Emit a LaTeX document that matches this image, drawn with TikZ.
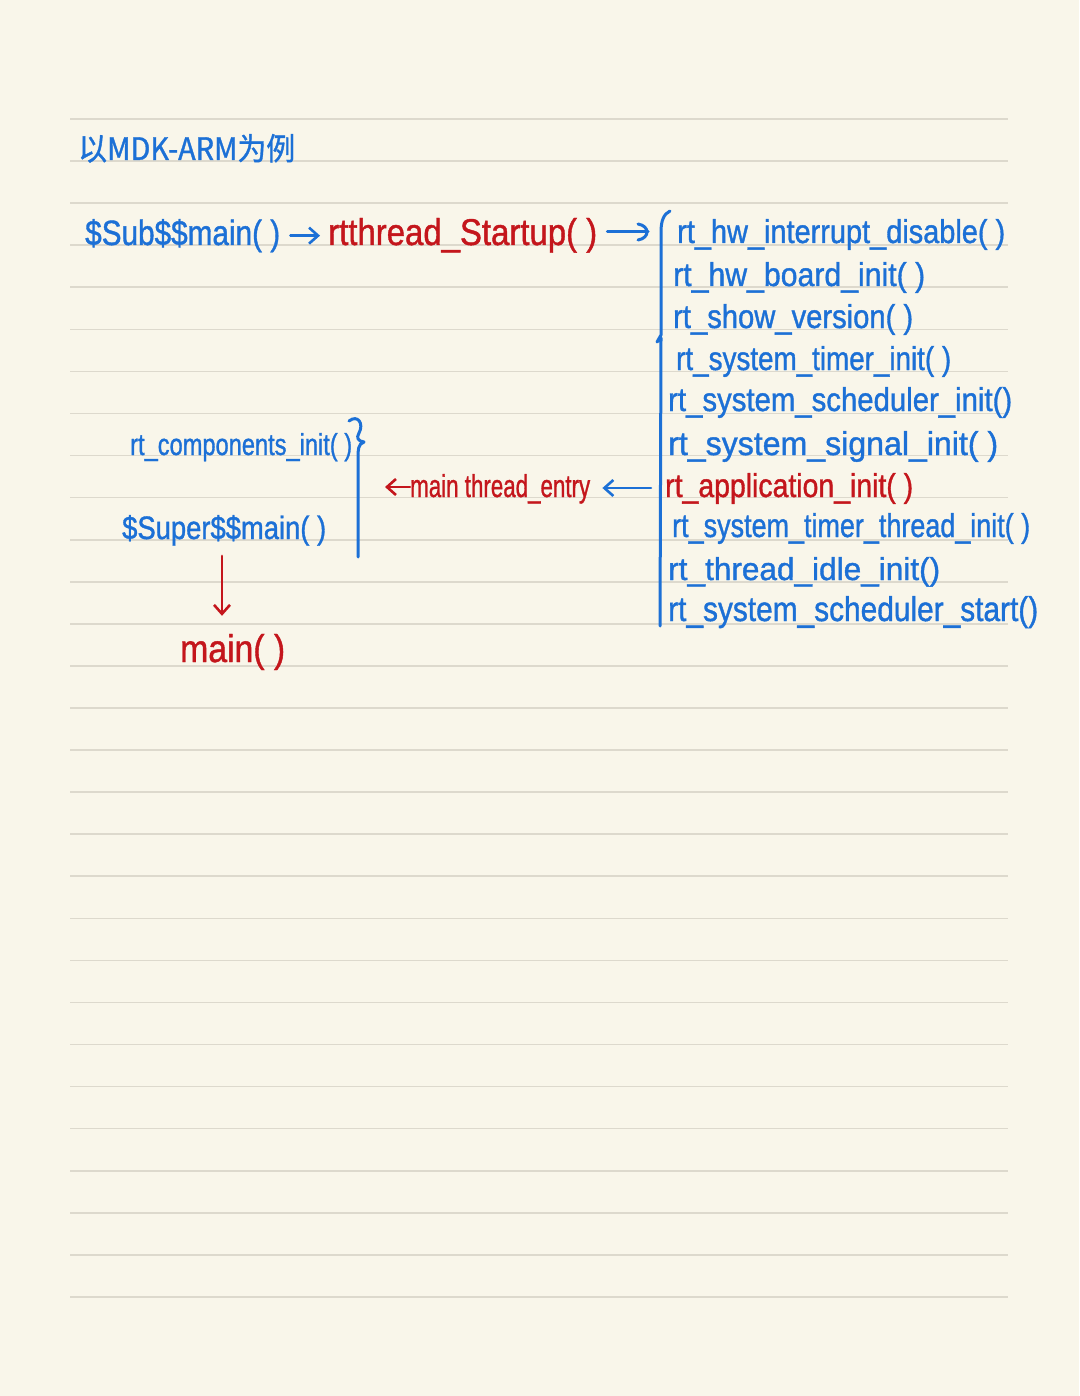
\documentclass[tikz,border=0pt]{standalone}
\usepackage{fontspec}
\usepackage{graphicx}
\setmainfont[FakeBold=1.2]{Liberation Sans}
\newfontfamily\cjk[FakeBold=1.2]{Noto Sans CJK SC}
\usetikzlibrary{arrows.meta}
\definecolor{paper}{RGB}{249,246,234}
\definecolor{rule}{RGB}{221,217,205}
\definecolor{pen}{RGB}{28,112,214}
\definecolor{ink}{RGB}{196,22,28}
\newcommand{\fitw}[3]{\resizebox{#1pt}{#2pt}{#3}}
\tikzset{
  lbl/.style={inner sep=0pt, anchor=base west, text=pen, font=\fontsize{20}{24}\selectfont},
  redlbl/.style={lbl, text=ink},
  arr/.style={draw=pen, line width=2.6pt, line cap=round, -{Straight Barb[length=9pt,width=16pt,line width=2.6pt]}},
  redarr/.style={arr, draw=ink, -{Straight Barb[length=9pt,width=16pt,line width=2.6pt]}},
  bar/.style={draw=pen, line width=3pt, line cap=round, line join=round},
  ruling/.style={draw=rule, line width=1.6pt}
}
\begin{document}
\begin{tikzpicture}[x=1pt,y=-1pt]
\fill[paper] (0,0) rectangle (1079,1396);
\useasboundingbox (0,0) rectangle (1079,1396);
% ruled lines
\foreach \k in {0,...,28}{
  \draw[ruling] (70,{119+42.07*\k}) -- (1008,{119+42.07*\k});
}
% title
\node[lbl, font=\cjk\fontsize{20}{24}\selectfont] (title) at (78,160) {\fitw{217}{26}{以MDK-ARM为例}};
% top row
\node[lbl] (sub) at (85,245) {\fitw{195}{26}{\$Sub\$\$main( )}};
\node[redlbl] (startup) at (328,245) {\fitw{269}{27}{rtthread\_Startup( )}};
\draw[arr] ([xshift=10pt]sub.east) -- ([xshift=-8pt]sub.east -| startup.west);
% hooked arrow to list
\coordinate (hk) at (648,232);
\draw[bar] ([xshift=10pt]startup.east |- hk) -- (hk);
\draw[bar] ([shift={(-10,-8)}]hk) .. controls ([shift={(2,-6)}]hk) and ([shift={(2,6)}]hk) .. ([shift={(-10,8)}]hk);
% right list
\node[lbl] (i1) at (677,243) {\fitw{328}{24}{rt\_hw\_interrupt\_disable( )}};
\node[lbl] (i2) at (673,286) {\fitw{252}{24}{rt\_hw\_board\_init( )}};
\node[lbl] (i3) at (673,328) {\fitw{240}{24}{rt\_show\_version( )}};
\node[lbl] (i4) at (676,370) {\fitw{275}{24}{rt\_system\_timer\_init( )}};
\node[lbl] (i5) at (668,411) {\fitw{344}{24}{rt\_system\_scheduler\_init()}};
\node[lbl] (i6) at (668,455) {\fitw{330}{24}{rt\_system\_signal\_init( )}};
\node[redlbl] (i7) at (665,497) {\fitw{248}{24}{rt\_application\_init( )}};
\node[lbl] (i8) at (672,537) {\fitw{358}{24}{rt\_system\_timer\_thread\_init( )}};
\node[lbl] (i9) at (668,580) {\fitw{272}{23}{rt\_thread\_idle\_init()}};
\node[lbl] (i10) at (668,621) {\fitw{370}{25}{rt\_system\_scheduler\_start()}};
% right bracket
\coordinate (rtop) at (670,211);
\coordinate (rbot) at (660,626);
\draw[bar] (rtop) .. controls (664,214) and (661,220) .. (661,232) -- (661,335) -- (657,342) -- (661,338) -- (rbot);
% left column
\node[lbl] (comp) at (130,455) {\fitw{222}{22}{rt\_components\_init( )}};
\node[lbl] (super) at (122,539) {\fitw{204}{24}{\$Super\$\$main( )}};
\node[redlbl] (mainf) at (180,662) {\fitw{105}{28}{main( )}};
% left brace and bar
\coordinate (ltop) at (349,421);
\coordinate (lbot) at (358,557);
\draw[bar] (ltop) .. controls (358,414) and (364,424) .. (359,433) .. controls (356,438) and (358,441) .. (364,442) .. controls (358,444) and (358,450) .. (358,458) -- (lbot);
% middle
\node[redlbl] (entry) at (410,497) {\fitw{180}{23}{main thread\_entry}};
\draw[redarr, shorten >=27pt] (entry.west |- 0,487) -- (lbot |- 0,487);
\draw[arr, shorten <=14pt, shorten >=12pt] (i7.west |- 0,488) -- (entry.east |- 0,488);
\draw[redarr, shorten <=10pt, shorten >=18pt] (222,0 |- super.south) -- (222,0 |- mainf.north);
\end{tikzpicture}
\end{document}
